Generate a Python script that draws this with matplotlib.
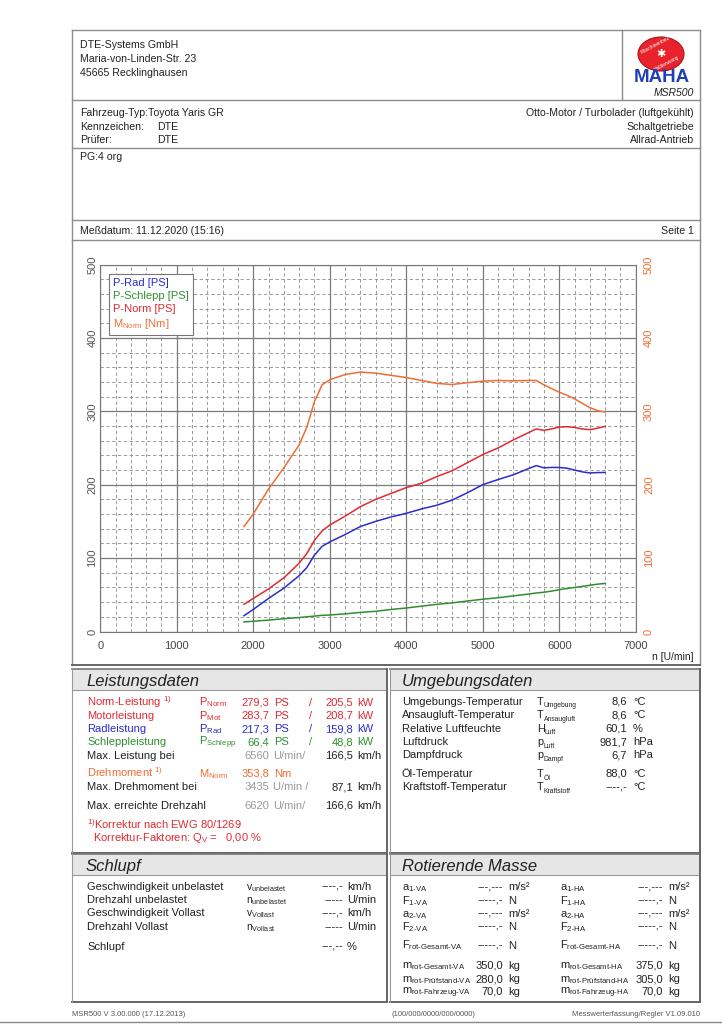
import matplotlib
matplotlib.use('Agg')
import matplotlib.pyplot as plt
import numpy as np
from matplotlib.lines import Line2D
from matplotlib.patches import Rectangle, Ellipse

plt.rcParams['font.family'] = ['Liberation Sans', 'DejaVu Sans']
plt.rcParams['mathtext.fontset'] = 'custom'
plt.rcParams['mathtext.rm'] = 'Liberation Sans'
plt.rcParams['mathtext.it'] = 'Liberation Sans:italic'

################### curve data ################
rpm = [1880, 2000, 2200, 2400, 2600, 2700, 2800, 2900, 3000, 3200, 3400, 3600, 3800, 4000, 4200, 4400,
       4600, 4800, 5000, 5200, 5400, 5600, 5700, 5800, 5900, 6000, 6100, 6200, 6300, 6400, 6500, 6600]
m_norm = [143, 160, 194, 223, 254, 278, 313, 336, 343, 350, 353.5, 352, 349, 346, 342, 338,
          336.5, 339, 341, 342, 341.5, 342, 342, 336, 331, 326, 322, 317, 311, 305, 301, 299]
p_norm = [37, 45, 58, 73, 93, 106, 124, 137, 145, 157, 170, 180, 188, 196, 202, 211,
          219, 230, 241, 250, 261, 271, 276, 274, 276, 278.5, 279, 278, 276, 275, 277, 279.5]
p_rad = [21.5, 30, 45, 59, 76, 87, 104, 116, 122, 132, 143, 150, 156, 161, 167, 172,
         179, 189, 200, 207, 213.5, 222, 226, 223, 223.5, 223.5, 222.5, 220, 217.5, 216, 216.5, 216.7]
p_schlepp = [13, 14, 15.5, 17.5, 19, 20, 21, 22, 22.5, 24, 26, 27.5, 30, 32, 34.5, 37,
             39, 41.5, 44, 46, 48.5, 51, 52.5, 53.5, 55, 57, 58.5, 60, 61.5, 63, 64.5, 65.5]

x_ticks = [0, 1000, 2000, 3000, 4000, 5000, 6000, 7000]
y_ticks = [0, 100, 200, 300, 400, 500]

################### table data ################
leist_names = ['Norm-Leistung $^{1)}$', 'Motorleistung', 'Radleistung', 'Schleppleistung']
leist_syms = ['Norm', 'Mot', 'Rad', 'Schlepp']
leist_ps = ['279,3', '283,7', '217,3', '66,4']
leist_kw = ['205,5', '208,7', '159,8', '48,8']

umg_names = ['Umgebungs-Temperatur', 'Ansaugluft-Temperatur', 'Relative Luftfeuchte', 'Luftdruck',
             'Dampfdruck', 'Öl-Temperatur', 'Kraftstoff-Temperatur']
umg_base = ['T', 'T', 'H', 'p', 'p', 'T', 'T']
umg_sub = ['Umgebung', 'Ansaugluft', 'Luft', 'Luft', 'Dampf', 'Öl', 'Kraftstoff']
umg_vals = ['8,6', '8,6', '60,1', '981,7', '6,7', '88,0', '----,-']
umg_units = ['°C', '°C', '%', 'hPa', 'hPa', '°C', '°C']

schlupf_names = ['Geschwindigkeit unbelastet', 'Drehzahl unbelastet', 'Geschwindigkeit Vollast',
                 'Drehzahl Vollast', 'Schlupf']
schlupf_syms = [r'v$_{\mathrm{unbelastet}}$', r'n$_{\mathrm{unbelastet}}$', r'v$_{\mathrm{Vollast}}$',
                r'n$_{\mathrm{Vollast}}$', '']
schlupf_vals = ['----,-', '-----', '----,-', '-----', '---,--']
schlupf_units = ['km/h', 'U/min', 'km/h', 'U/min', '%']

rot_syms_va = [r'a$_{\mathrm{1\text{-}VA}}$', r'F$_{\mathrm{1\text{-}VA}}$', r'a$_{\mathrm{2\text{-}VA}}$',
               r'F$_{\mathrm{2\text{-}VA}}$', r'F$_{\mathrm{rot\text{-}Gesamt\text{-}VA}}$',
               r'm$_{\mathrm{rot\text{-}Gesamt\text{-}VA}}$', r'm$_{\mathrm{rot\text{-}Prüfstand\text{-}VA}}$',
               r'm$_{\mathrm{rot\text{-}Fahrzeug\text{-}VA}}$']
rot_syms_ha = [s.replace('VA', 'HA') for s in rot_syms_va]
rot_vals_va = ['---,---', '-----,-', '---,---', '-----,-', '-----,-', '350,0', '280,0', '70,0']
rot_vals_ha = ['---,---', '-----,-', '---,---', '-----,-', '-----,-', '375,0', '305,0', '70,0']
rot_units = ['m/s²', 'N', 'm/s²', 'N', 'N', 'kg', 'kg', 'kg']

c_blue = '#2b2bd0'
c_green = '#2f8f2f'
c_red = '#e02a32'
c_orange = '#ee6e32'
c_gray = '#9a9a9a'
c_text = '#222222'
c_line = '#8c8c8c'

W, H = 722.0, 1024.0
fig = plt.figure(figsize=(7.22, 10.24), dpi=100)


def fx(x):
    return x / W


def fy(y):
    return 1 - y / H


def txt(x, y, s, ha='left', color=c_text, size=8, **kw):
    # y is the text baseline in pixels
    fig.text(fx(x), fy(y), s, ha=ha, va='baseline', color=color, fontsize=size, **kw)


def hline(x0, x1, y, color=c_line, lw=1.0):
    fig.add_artist(Line2D([fx(x0), fx(x1)], [fy(y), fy(y)], transform=fig.transFigure, color=color, lw=lw))


def vline(x, y0, y1, color=c_line, lw=1.0):
    fig.add_artist(Line2D([fx(x), fx(x)], [fy(y0), fy(y1)], transform=fig.transFigure, color=color, lw=lw))


def band(x0, x1, y0, y1, color='#e6e6e6'):
    fig.add_artist(Rectangle((fx(x0), fy(y1)), fx(x1) - fx(x0), fy(y0) - fy(y1),
                             transform=fig.transFigure, facecolor=color, edgecolor='none', zorder=0))


# rough advance widths (em) of the letters used as symbol bases
base_w = {'T': 0.611, 'H': 0.722, 'p': 0.556}


def sym(x, y, base, sub, size=8):
    txt(x, y, base, size=size)
    txt(x + base_w[base] * size * 100 / 72, y + 2.5, sub, size=size * 0.62)


########### page frame ###########
hline(72, 700, 30)
vline(72, 30, 665)
vline(700, 30, 665)
hline(72, 700, 100)
vline(622, 30, 100)
hline(72, 700, 148)
hline(72, 700, 220)
hline(72, 700, 240)
hline(72, 700, 665, color='#666666', lw=1.4)

hs = 7.6  # header text size
# header
txt(80, 48, 'DTE-Systems GmbH', size=hs)
txt(80, 62, 'Maria-von-Linden-Str. 23', size=hs)
txt(80, 76, '45665 Recklinghausen', size=hs)

# logo
fig.add_artist(Ellipse((fx(661), fy(54)), 46 / W, 34 / H, transform=fig.transFigure,
                       facecolor='#e8232b', edgecolor='#b01018', lw=0.8))
fig.text(fx(661), fy(54), '✱', ha='center', va='center', color='white', fontsize=8, family='DejaVu Sans')
fig.text(fx(655), fy(45), 'Maschinenbau', ha='center', va='center', color='white', fontsize=3.5,
         rotation=28)
fig.text(fx(667), fy(63), 'Haldenwang', ha='center', va='center', color='white', fontsize=3.5,
         rotation=28)
fig.text(fx(662), fy(77), 'MAHA', ha='center', va='center', color='#1d3fb8', fontsize=13.5,
         fontweight='heavy', family=['DejaVu Sans Condensed', 'Liberation Sans'], fontstretch='condensed')
txt(694, 96, 'MSR500', ha='right', size=7.5, style='italic')

# vehicle
txt(80, 116, 'Fahrzeug-Typ:', size=hs)
txt(148, 116, 'Toyota Yaris GR', size=hs)
txt(80, 130, 'Kennzeichen:', size=hs)
txt(157, 130, 'DTE', size=hs)
txt(80, 143, 'Prüfer:', size=hs)
txt(157, 143, 'DTE', size=hs)
txt(694, 116, 'Otto-Motor / Turbolader (luftgekühlt)', ha='right', size=hs)
txt(694, 130, 'Schaltgetriebe', ha='right', size=hs)
txt(694, 143, 'Allrad-Antrieb', ha='right', size=hs)

txt(80, 160, 'PG:4 org', size=hs)
txt(80, 234, 'Meßdatum: 11.12.2020 (15:16)', size=hs)
txt(694, 234, 'Seite 1', ha='right', size=hs)

########### chart ###########
ax = fig.add_axes([fx(100.2), fy(631.5), 535.5 / W, 367 / H])
ax.plot(rpm, p_rad, color=c_blue, lw=1.1, label='P-Rad [PS]')
ax.plot(rpm, p_schlepp, color=c_green, lw=1.1, label='P-Schlepp [PS]')
ax.plot(rpm, p_norm, color=c_red, lw=1.1, label='P-Norm [PS]')
ax.plot(rpm, m_norm, color=c_orange, lw=1.1, label=r'M$_{\mathrm{Norm}}$ [Nm]')
ax.set_xlim(0, 7000)
ax.set_ylim(0, 500)
ax.set_xticks(x_ticks)
ax.set_xticklabels([str(v) for v in x_ticks], fontsize=8, color='#444444')
ax.set_yticks(y_ticks)
ax.set_yticklabels([str(v) for v in y_ticks], fontsize=8, color='#555555', rotation=90, va='center')
ax.set_xticks(np.arange(0, 7001, 200), minor=True)
ax.set_yticks(np.arange(0, 501, 20), minor=True)
ax.tick_params(which='both', length=0)
ax.tick_params(axis='x', pad=7)
ax.tick_params(axis='y', pad=2)
ax.grid(which='major', color='#7a7a7a', lw=0.9, ls='-')
ax.grid(which='minor', color='#8a8a8a', lw=0.6, ls=(0, (4, 3)))
ax.set_axisbelow(True)
for sp in ax.spines.values():
    sp.set_color('#777777')
    sp.set_linewidth(0.8)

ax2 = ax.twinx()
ax2.set_ylim(0, 500)
ax2.set_yticks(y_ticks)
ax2.set_yticklabels([str(v) for v in y_ticks], fontsize=8, color=c_orange, rotation=90, va='center')
ax2.tick_params(length=0, pad=6)
for sp in ax2.spines.values():
    sp.set_visible(False)

leg = ax.legend(loc='upper left', bbox_to_anchor=(0.017, 0.973), borderaxespad=0, fontsize=8,
                handlelength=0, handletextpad=0, labelcolor='linecolor', fancybox=False,
                framealpha=1, edgecolor='#777777', borderpad=0.35, labelspacing=0.25)
leg.get_frame().set_linewidth(0.8)

txt(694, 660, 'n [U/min]', ha='right', size=7.5)

########### table boxes ###########
boxes = [(72, 387, 669, 853), (390, 700, 669, 853), (72, 387, 854, 1002), (390, 700, 854, 1002)]
for x0, x1, y0, y1 in boxes:
    band(x0, x1, y0, y0 + 21)
    hline(x0, x1, y0, color='#777777', lw=1.2)
    hline(x0, x1, y0 + 21, color='#999999', lw=0.8)
    hline(x0, x1, y1, color='#666666', lw=1.4)
    vline(x0, y0, y1, color='#999999', lw=0.8)
    vline(x1, y0, y1, color='#666666', lw=1.4)

txt(86, 686, 'Leistungsdaten', size=12, style='italic')
txt(402, 686, 'Umgebungsdaten', size=12, style='italic')
txt(86, 871, 'Schlupf', size=12, style='italic')
txt(402, 871, 'Rotierende Masse', size=12, style='italic')

# Leistungsdaten
leist_colors = [c_red, c_red, c_blue, c_green]
for i in range(4):
    y = 705.5 + i * 13.3
    col = leist_colors[i]
    txt(87, y, leist_names[i], color=col)
    txt(199, y, r'P$_{\mathrm{%s}}$' % leist_syms[i], color=col)
    txt(269, y, leist_ps[i], ha='right', color=col)
    txt(274, y, 'PS', color=col)
    txt(309, y, '/', color=col)
    txt(353, y, leist_kw[i], ha='right', color=col)
    txt(357, y, 'kW', color=col)

y = 758.7
txt(87, y, 'Max. Leistung bei')
txt(269, y, '6560', ha='right', color=c_gray)
txt(273, y, 'U/min/', color=c_gray)
txt(353, y, '166,5', ha='right')
txt(357, y, 'km/h')

y = 777
txt(87, y, 'Drehmoment $^{1)}$', color=c_orange)
txt(199, y, r'M$_{\mathrm{Norm}}$', color=c_orange)
txt(269, y, '353,8', ha='right', color=c_orange)
txt(274, y, 'Nm', color=c_orange)

y = 790.4
txt(87, y, 'Max. Drehmoment bei')
txt(269, y, '3435', ha='right', color=c_gray)
txt(273, y, 'U/min /', color=c_gray)
txt(353, y, '87,1', ha='right')
txt(357, y, 'km/h')

y = 808.7
txt(87, y, 'Max. erreichte Drehzahl')
txt(269, y, '6620', ha='right', color=c_gray)
txt(273, y, 'U/min/', color=c_gray)
txt(353, y, '166,6', ha='right')
txt(357, y, 'km/h')

txt(87, 828.7, r'$^{1)}$Korrektur nach EWG 80/1269', color=c_red)
txt(93, 841.4, r'Korrektur-Faktoren: Q$_{\mathrm{V}}$ =   0,00 %', color=c_red)

# Umgebungsdaten
umg_y = [704.7, 718.4, 731.7, 745.1, 758.4, 777, 790.4]
for i in range(len(umg_names)):
    txt(402, umg_y[i], umg_names[i])
    sym(537, umg_y[i], umg_base[i], umg_sub[i], size=7.8)
    txt(627, umg_y[i], umg_vals[i], ha='right')
    txt(633, umg_y[i], umg_units[i])

# Schlupf
schl_y = [889.7, 903, 916.4, 929.7, 949.7]
for i in range(len(schlupf_names)):
    txt(87, schl_y[i], schlupf_names[i])
    if schlupf_syms[i]:
        txt(246, schl_y[i], schlupf_syms[i], size=7.5)
    txt(343, schl_y[i], schlupf_vals[i], ha='right')
    txt(347, schl_y[i], schlupf_units[i])

# Rotierende Masse
rot_y = [890.4, 903.7, 917, 929.7, 948.7, 968.7, 982, 994.7]
for i in range(len(rot_syms_va)):
    txt(402, rot_y[i], rot_syms_va[i])
    txt(503, rot_y[i], rot_vals_va[i], ha='right')
    txt(508, rot_y[i], rot_units[i])
    txt(560, rot_y[i], rot_syms_ha[i])
    txt(663, rot_y[i], rot_vals_ha[i], ha='right')
    txt(668, rot_y[i], rot_units[i])

# footer
txt(72, 1015.5, 'MSR500 V 3.00.000 (17.12.2013)', size=5.5, color='#555555')
txt(391, 1015.5, '(100/000/0000/000/0000)', size=5.5, color='#555555')
txt(700, 1015.5, 'Messwerterfassung/Regler V1.09.010', ha='right', size=5.5, color='#555555')
hline(0, 722, 1022, color='#888888', lw=1.0)

fig.savefig('out.png', dpi=100)
